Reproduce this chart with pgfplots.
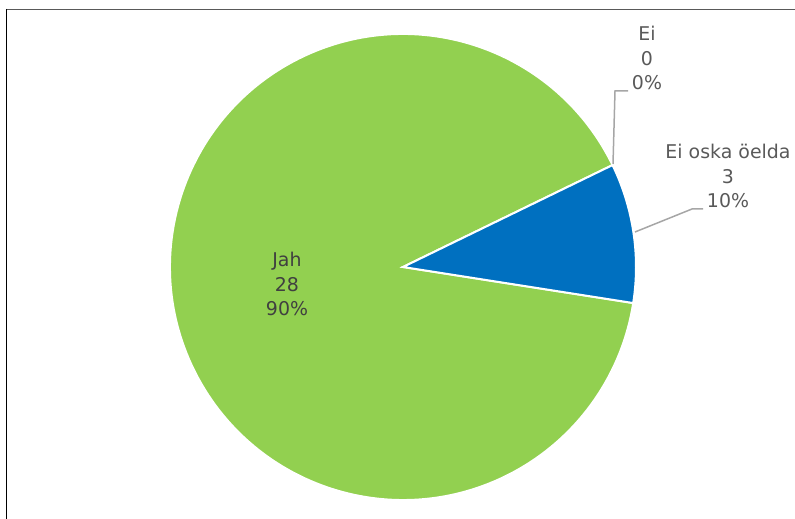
\documentclass[border=0pt]{standalone}
\usepackage{pgfplots}
\pgfplotsset{compat=1.18}
\usepackage{fontspec}
\setmainfont{DejaVu Sans}
\definecolor{pgreen}{HTML}{92D050}
\definecolor{pblue}{HTML}{0070C0}
\definecolor{lbldark}{HTML}{404040}
\definecolor{lblgray}{HTML}{595959}
\definecolor{leader}{HTML}{A6A6A6}
% data
\def\vJah{28}
\def\vEi{0}
\def\vEos{3}
\pgfmathsetmacro\tot{\vJah+\vEi+\vEos}
\pgfmathsetmacro\aStart{-8.9}
\pgfmathsetmacro\aB{\aStart+360*\vEos/\tot}
\pgfmathsetmacro\aE{\aB+360*\vEi/\tot}
\pgfmathsetmacro\aJ{\aE+360*\vJah/\tot}
\tikzset{lbl/.style={font=\fontsize{19}{24.3}\selectfont, align=center, inner sep=0pt}}
\begin{document}
\begin{tikzpicture}
\begin{axis}[x=1bp,y=1bp,xmin=0,xmax=795,ymin=0,ymax=519,hide axis,clip=false]
\coordinate (ll) at (axis cs:0,0);
\coordinate (ur) at (axis cs:795,519);
% frame
\draw[black!65, line width=1.5bp] (axis cs:6,509.5) -- (axis cs:795,509.5);
\draw[black, line width=1.5bp] (axis cs:6.5,510) -- (axis cs:6.5,0);
% wedges
\fill[pgreen, draw=white, line width=2bp] (axis cs:403,252) -- ++(\aE:233bp) arc[start angle=\aE, end angle=\aJ, radius=233bp] -- cycle;
\fill[pblue, draw=white, line width=2bp] (axis cs:403,252) -- ++(\aStart:233bp) arc[start angle=\aStart, end angle=\aB, radius=233bp] -- cycle;
% leader lines
\draw[leader, line width=1.5bp] (axis cs:613,355) -- (axis cs:615,428) -- (axis cs:628,428);
\draw[leader, line width=1.5bp] (axis cs:635,287) -- (axis cs:692,310) -- (axis cs:703,310);
% labels
\node[lbl, text=lbldark] at (axis cs:287,235) {Jah\\28\\90\%};
\node[lbl, text=lblgray] at (axis cs:647,461) {Ei\\0\\0\%};
\node[lbl, text=lblgray] at (axis cs:728,343) {Ei oska öelda\\3\\10\%};
\end{axis}
\pgfresetboundingbox
\path (ll) rectangle (ur);
\end{tikzpicture}
\end{document}
